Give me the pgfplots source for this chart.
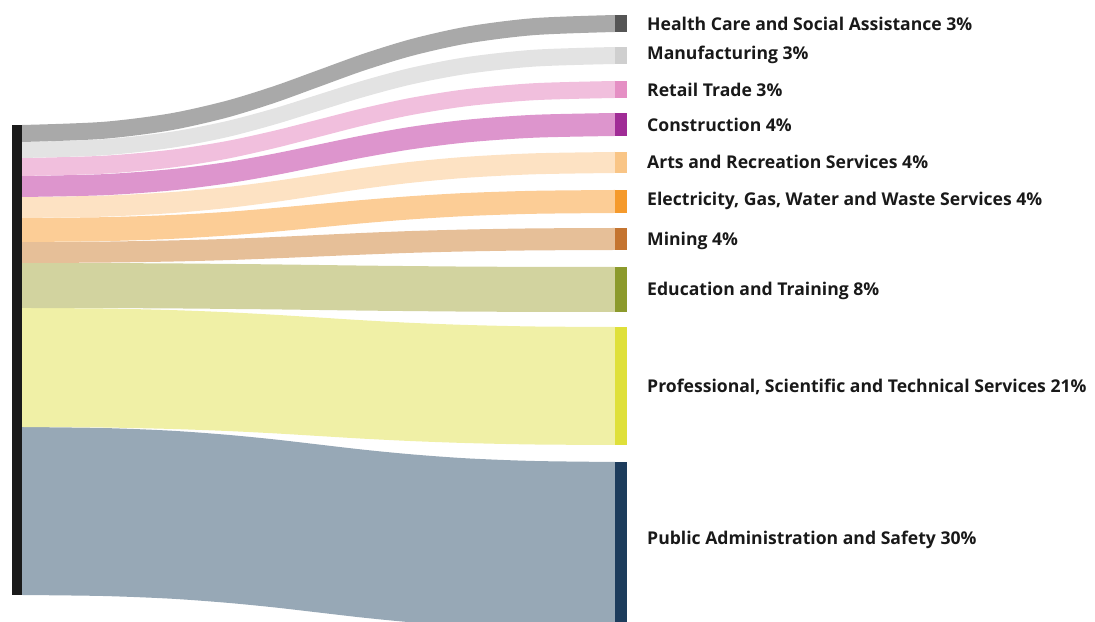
\documentclass[border=0pt]{standalone}
\usepackage{fontspec}
\setmainfont{Open Sans}
\usepackage{pgfplots}
\pgfplotsset{compat=1.18}
\usepgfplotslibrary{fillbetween}
\definecolor{fHealth}{HTML}{A9A9A9}\definecolor{bHealth}{HTML}{555555}
\definecolor{fManu}{HTML}{E3E3E3}\definecolor{bManu}{HTML}{CFCFCF}
\definecolor{fRetail}{HTML}{F1BFDD}\definecolor{bRetail}{HTML}{E58FC4}
\definecolor{fCons}{HTML}{DD95CD}\definecolor{bCons}{HTML}{A02C96}
\definecolor{fArts}{HTML}{FDE2C3}\definecolor{bArts}{HTML}{F9C586}
\definecolor{fElec}{HTML}{FCCD96}\definecolor{bElec}{HTML}{F59A2C}
\definecolor{fMin}{HTML}{E6BF98}\definecolor{bMin}{HTML}{C47430}
\definecolor{fEdu}{HTML}{D2D39F}\definecolor{bEdu}{HTML}{8C9A2C}
\definecolor{fProf}{HTML}{F0F0A6}\definecolor{bProf}{HTML}{DFE03A}
\definecolor{fPub}{HTML}{97A8B6}\definecolor{bPub}{HTML}{1D3C5C}
\definecolor{lbar}{HTML}{1A1A1A}
\newcommand{\lab}{\fontsize{17.6bp}{20bp}\selectfont\bfseries\color{black!90}}
\begin{document}
\begin{tikzpicture}
\begin{axis}[x=1bp, y=1bp, y dir=reverse, xmin=0, xmax=1095, ymin=0, ymax=622,
  axis line style={draw=none}, xtick=\empty, ytick=\empty, clip mode=individual]
% Public Administration and Safety
\addplot[draw=none, smooth, name path=p1] coordinates {(22,427) (102.6,428.0) (169.1,430.6) (224.8,434.6) (273.4,439.3) (318.5,444.5) (363.6,449.7) (412.2,454.4) (467.9,458.4) (534.4,461.0) (615,462)};
\addplot[draw=none, smooth, name path=p2] coordinates {(22,595) (102.6,596.0) (169.1,598.6) (224.8,602.6) (273.4,607.3) (318.5,612.5) (363.6,617.7) (412.2,622.4) (467.9,626.4) (534.4,629.0) (615,630)};
\addplot[fPub] fill between[of=p1 and p2];
% Professional
\addplot[draw=none, smooth, name path=q1] coordinates {(22,308) (102.6,308.5) (169.1,310.0) (224.8,312.1) (273.4,314.7) (318.5,317.5) (363.6,320.3) (412.2,322.9) (467.9,325.0) (534.4,326.5) (615,327)};
\addplot[draw=none, smooth, name path=q2] coordinates {(22,427) (102.6,427.5) (169.1,428.9) (224.8,430.9) (273.4,433.3) (318.5,436) (363.6,438.7) (412.2,441.1) (467.9,443.1) (534.4,444.5) (615,445)};
\addplot[fProf] fill between[of=q1 and q2];
% Education
\addplot[draw=none, smooth, name path=e1] coordinates {(22,263) (102.6,263.1) (169.1,263.4) (224.8,263.9) (273.4,264.4) (318.5,265) (363.6,265.6) (412.2,266.1) (467.9,266.6) (534.4,266.9) (615,267)};
\addplot[draw=none, smooth, name path=e2] coordinates {(22,308) (102.6,308.1) (169.1,308.4) (224.8,308.9) (273.4,309.4) (318.5,310) (363.6,310.6) (412.2,311.1) (467.9,311.6) (534.4,311.9) (615,312)};
\addplot[fEdu] fill between[of=e1 and e2];
% Mining
\addplot[draw=none, smooth, name path=m1] coordinates {(22,242) (102.6,241.6) (169.1,240.5) (224.8,239.0) (273.4,237.1) (318.5,235) (363.6,232.9) (412.2,231.0) (467.9,229.5) (534.4,228.4) (615,228)};
\addplot[draw=none, smooth, name path=m2] coordinates {(22,263) (102.6,262.6) (169.1,261.6) (224.8,260.2) (273.4,258.4) (318.5,256.5) (363.6,254.6) (412.2,252.8) (467.9,251.4) (534.4,250.4) (615,250)};
\addplot[fMin] fill between[of=m1 and m2];
% Electricity
\addplot[draw=none, smooth, name path=l1] coordinates {(22,218) (102.6,217.2) (169.1,215.1) (224.8,212.0) (273.4,208.1) (318.5,204) (363.6,199.9) (412.2,196.1) (467.9,192.9) (534.4,190.8) (615,190)};
\addplot[draw=none, smooth, name path=l2] coordinates {(22,242) (102.6,241.2) (169.1,239.0) (224.8,235.7) (273.4,231.8) (318.5,227.5) (363.6,223.2) (412.2,219.3) (467.9,216.0) (534.4,213.8) (615,213)};
\addplot[fElec] fill between[of=l1 and l2];
% Arts
\addplot[draw=none, smooth, name path=a1] coordinates {(22,197) (102.6,195.7) (169.1,192.3) (224.8,187.3) (273.4,181.2) (318.5,174.5) (363.6,167.8) (412.2,161.7) (467.9,156.7) (534.4,153.3) (615,152)};
\addplot[draw=none, smooth, name path=a2] coordinates {(22,218) (102.6,216.7) (169.1,213.3) (224.8,208.3) (273.4,202.2) (318.5,195.5) (363.6,188.8) (412.2,182.7) (467.9,177.7) (534.4,174.3) (615,173)};
\addplot[fArts] fill between[of=a1 and a2];
% Construction
\addplot[draw=none, smooth, name path=c1] coordinates {(22,176) (102.6,174.2) (169.1,169.4) (224.8,162.4) (273.4,153.8) (318.5,144.5) (363.6,135.2) (412.2,126.6) (467.9,119.6) (534.4,114.8) (615,113)};
\addplot[draw=none, smooth, name path=c2] coordinates {(22,197) (102.6,195.3) (169.1,190.7) (224.8,183.8) (273.4,175.5) (318.5,166.5) (363.6,157.5) (412.2,149.2) (467.9,142.3) (534.4,137.7) (615,136)};
\addplot[fCons] fill between[of=c1 and c2];
% Retail
\addplot[draw=none, smooth, name path=r1] coordinates {(22,158) (102.6,155.8) (169.1,150.0) (224.8,141.4) (273.4,130.9) (318.5,119.5) (363.6,108.1) (412.2,97.6) (467.9,89.0) (534.4,83.2) (615,81)};
\addplot[draw=none, smooth, name path=r2] coordinates {(22,176) (102.6,173.8) (169.1,167.9) (224.8,159.2) (273.4,148.5) (318.5,137) (363.6,125.5) (412.2,114.9) (467.9,106.1) (534.4,100.2) (615,98)};
\addplot[fRetail] fill between[of=r1 and r2];
% Manufacturing
\addplot[draw=none, smooth, name path=u1] coordinates {(22,142) (102.6,139.3) (169.1,132.1) (224.8,121.5) (273.4,108.6) (318.5,94.5) (363.6,80.4) (412.2,67.5) (467.9,56.9) (534.4,49.7) (615,47)};
\addplot[draw=none, smooth, name path=u2] coordinates {(22,158) (102.6,155.4) (169.1,148.2) (224.8,137.7) (273.4,124.9) (318.5,111) (363.6,97.1) (412.2,84.3) (467.9,73.8) (534.4,66.6) (615,64)};
\addplot[fManu] fill between[of=u1 and u2];
% Health Care
\addplot[draw=none, smooth, name path=h1] coordinates {(22,125) (102.6,121.9) (169.1,113.6) (224.8,101.2) (273.4,86.3) (318.5,70) (363.6,53.7) (412.2,38.8) (467.9,26.4) (534.4,18.1) (615,15)};
\addplot[draw=none, smooth, name path=h2] coordinates {(22,142) (102.6,138.9) (169.1,130.6) (224.8,118.2) (273.4,103.3) (318.5,87) (363.6,70.7) (412.2,55.8) (467.9,43.4) (534.4,35.1) (615,32)};
\addplot[fHealth] fill between[of=h1 and h2];
% left bar
\addplot[fill=lbar, draw=none] coordinates {(12,125) (22,125) (22,595) (12,595)} -- cycle;
% right bars
\addplot[fill=bHealth, draw=none] coordinates {(615,15) (627,15) (627,32) (615,32)} -- cycle;
\addplot[fill=bManu, draw=none] coordinates {(615,47) (627,47) (627,64) (615,64)} -- cycle;
\addplot[fill=bRetail, draw=none] coordinates {(615,81) (627,81) (627,98) (615,98)} -- cycle;
\addplot[fill=bCons, draw=none] coordinates {(615,113) (627,113) (627,136) (615,136)} -- cycle;
\addplot[fill=bArts, draw=none] coordinates {(615,152) (627,152) (627,173) (615,173)} -- cycle;
\addplot[fill=bElec, draw=none] coordinates {(615,190) (627,190) (627,213) (615,213)} -- cycle;
\addplot[fill=bMin, draw=none] coordinates {(615,228) (627,228) (627,250) (615,250)} -- cycle;
\addplot[fill=bEdu, draw=none] coordinates {(615,267) (627,267) (627,312) (615,312)} -- cycle;
\addplot[fill=bProf, draw=none] coordinates {(615,327) (627,327) (627,445) (615,445)} -- cycle;
\addplot[fill=bPub, draw=none] coordinates {(615,462) (627,462) (627,630) (615,630)} -- cycle;
% labels
\node[anchor=west, inner sep=0pt, font=\lab] at (axis cs:647,24) {Health Care and Social Assistance 3\%};
\node[anchor=west, inner sep=0pt, font=\lab] at (axis cs:647,55) {Manufacturing 3\%};
\node[anchor=west, inner sep=0pt, font=\lab] at (axis cs:647,90) {Retail Trade 3\%};
\node[anchor=west, inner sep=0pt, font=\lab] at (axis cs:647,125) {Construction 4\%};
\node[anchor=west, inner sep=0pt, font=\lab] at (axis cs:647,162) {Arts and Recreation Services 4\%};
\node[anchor=west, inner sep=0pt, font=\lab] at (axis cs:647,201) {Electricity, Gas, Water and Waste Services 4\%};
\node[anchor=west, inner sep=0pt, font=\lab] at (axis cs:647,241) {Mining 4\%};
\node[anchor=west, inner sep=0pt, font=\lab] at (axis cs:647,291) {Education and Training 8\%};
\node[anchor=west, inner sep=0pt, font=\lab] at (axis cs:647,387) {Professional, Scientific and Technical Services 21\%};
\node[anchor=west, inner sep=0pt, font=\lab] at (axis cs:647,540) {Public Administration and Safety 30\%};
\end{axis}
\end{tikzpicture}
\end{document}
